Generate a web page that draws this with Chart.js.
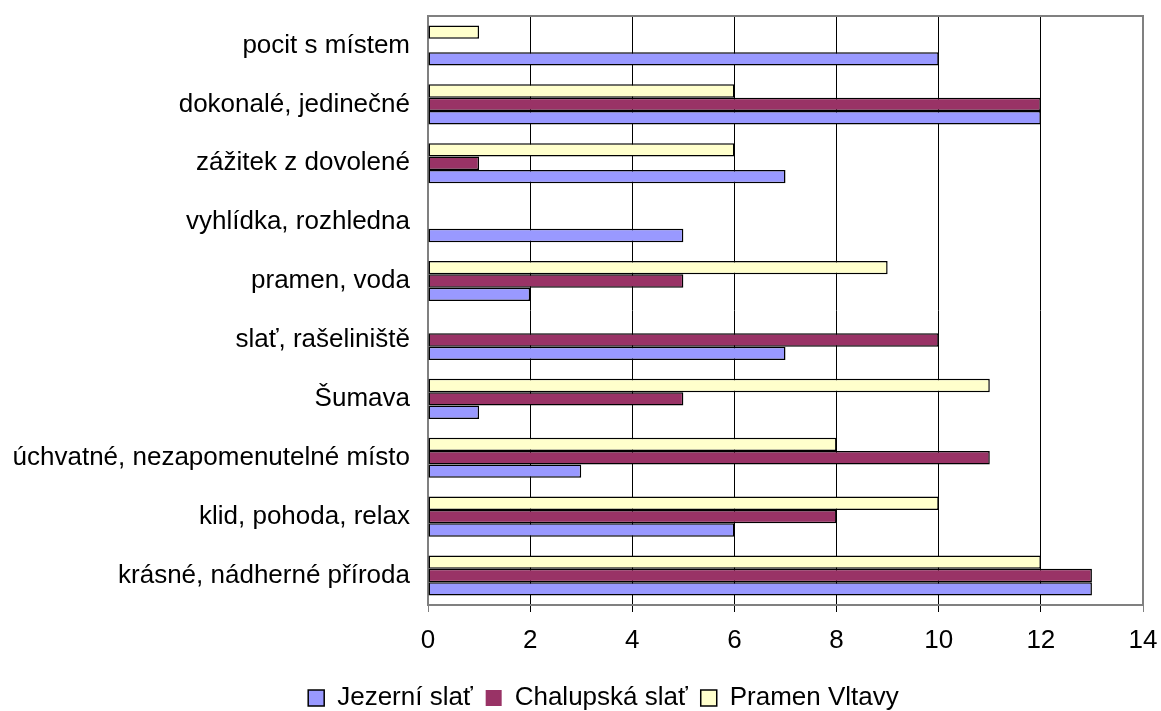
<!DOCTYPE html>
<html>
<head>
<meta charset="utf-8">
<script src="https://cdn.jsdelivr.net/npm/chart.js@4/dist/chart.umd.min.js"></script>
<style>
  html, body { margin: 0; padding: 0; background: #fff; }
  #wrap { width: 1161px; height: 711px; }
</style>
</head>
<body>
<div id="wrap"><canvas id="c" width="1161" height="711"></canvas></div>
<script>
var kategorie = [
    'pocit s místem',
    'dokonalé, jedinečné',
    'zážitek z dovolené',
    'vyhlídka, rozhledna',
    'pramen, voda',
    'slať, rašeliniště',
    'Šumava',
    'úchvatné, nezapomenutelné místo',
    'klid, pohoda, relax',
    'krásné, nádherné příroda'
];
var jezerniSlat = [10, 12, 7, 5, 2, 7, 1, 3, 6, 13];
var chalupskaSlat = [0, 12, 1, 0, 5, 10, 5, 11, 8, 13];
var pramenVltavy = [1, 6, 6, 0, 9, 0, 11, 8, 10, 12];
var osaX = [0, 2, 4, 6, 8, 10, 12, 14];

var FONT = { family: "'Liberation Sans', Arial, sans-serif", size: 26 };

function borderW(ctx) {
    return ctx.raw === 0 ? 0 : 1.5;
}

var framePlugin = {
    id: 'frame',
    afterLayout: function (chart) {
        // posun legendy (jako v Excelu)
        var lg = chart.legend;
        lg.top += 10;
        lg.bottom += 10;
        lg.left += 32;
        lg.right += 32;
    },
    beforeDatasetsDraw: function (chart) {
        var a = chart.chartArea;
        var ctx = chart.ctx;
        ctx.save();
        ctx.strokeStyle = '#808080';
        ctx.lineWidth = 2;
        ctx.strokeRect(a.left, a.top, a.right - a.left, a.bottom - a.top);
        ctx.restore();
    }
};

var ctx = document.getElementById('c').getContext('2d');
new Chart(ctx, {
    type: 'bar',
    data: {
        labels: kategorie,
        datasets: [{
            label: 'Pramen Vltavy',
            data: pramenVltavy,
            backgroundColor: '#FFFFCC',
            borderColor: '#000000',
            borderWidth: borderW
        }, {
            label: 'Chalupská slať',
            data: chalupskaSlat,
            backgroundColor: '#993366',
            borderColor: '#000000',
            borderWidth: borderW
        }, {
            label: 'Jezerní slať',
            data: jezerniSlat,
            backgroundColor: '#9999FF',
            borderColor: '#000000',
            borderWidth: borderW
        }]
    },
    options: {
        indexAxis: 'y',
        responsive: false,
        animation: false,
        categoryPercentage: 0.68,
        barPercentage: 1.0,
        borderSkipped: false,
        layout: { padding: { top: 16, right: 18, left: 0, bottom: 0 } },
        plugins: {
            legend: {
                position: 'bottom',
                reverse: true,
                labels: {
                    color: '#000',
                    font: FONT,
                    boxWidth: 16,
                    boxHeight: 16,
                    padding: 13
                }
            },
            tooltip: { enabled: false }
        },
        scales: {
            x: {
                min: 0,
                max: 14,
                afterBuildTicks: function (scale) {
                    scale.ticks = osaX.map(function (v) { return { value: v }; });
                },
                afterFit: function (scale) {
                    scale.height = 57;
                    scale.paddingLeft = 0;
                    scale.paddingRight = 0;
                },
                grid: {
                    color: function (c) {
                        return (c.index === 0 || c.index === osaX.length - 1) ? '#808080' : '#000000';
                    },
                    lineWidth: 1,
                    drawTicks: true,
                    tickLength: 7
                },
                border: { display: false },
                ticks: { color: '#000', font: FONT, padding: 13, maxRotation: 0 }
            },
            y: {
                afterFit: function (scale) {
                    scale.width = 428;
                    scale.paddingTop = 0;
                    scale.paddingBottom = 0;
                },
                grid: { display: false, drawTicks: false },
                border: { display: false },
                ticks: { color: '#000', font: FONT, padding: 18, autoSkip: false }
            }
        }
    },
    plugins: [framePlugin]
});
</script>
</body>
</html>
